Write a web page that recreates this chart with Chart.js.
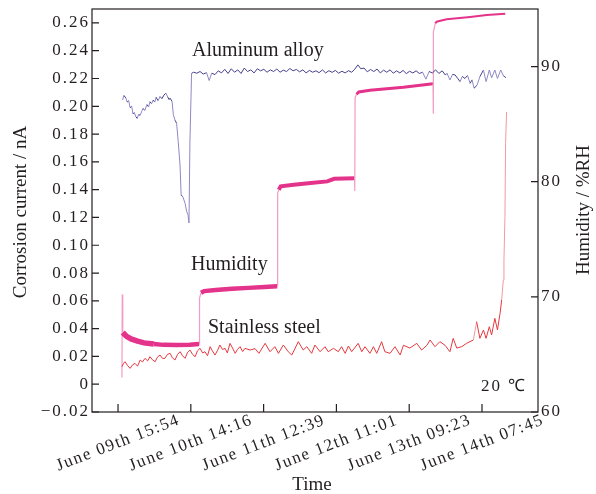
<!DOCTYPE html>
<html>
<head>
<meta charset="utf-8">
<script src="https://cdn.jsdelivr.net/npm/chart.js@4.4.0/dist/chart.umd.min.js"></script>
<style>
html, body { margin: 0; padding: 0; background: #fff; }
canvas { display: block; }
</style>
</head>
<body>
<canvas id="chart" width="596" height="494"></canvas>
<script>
// x values are hours since June 09th 15:54
const xTickHours = [0, 22.37, 44.74, 67.11, 89.48, 111.85];
const xTickLabels = ['June 09th 15:54', 'June 10th 14:16', 'June 11th 12:39',
                     'June 12th 11:01', 'June 13th 09:23', 'June 14th 07:45'];
const leftTicks = [-0.02, 0, 0.02, 0.04, 0.06, 0.08, 0.10, 0.12, 0.14, 0.16, 0.18, 0.20, 0.22, 0.24, 0.26];
const rightTicks = [60, 70, 80, 90];

// aluminum alloy corrosion current (nA)
const alTime = [1.4, 1.8, 2.4, 2.8, 3.3, 3.7, 4.2, 4.6, 5.0, 5.5, 5.9, 6.3, 6.8, 7.3, 7.7, 8.2, 8.9, 9.4, 9.8, 10.3,
  10.8, 11.3, 11.7, 12.3, 12.9, 13.5, 14.1, 14.7, 15.2, 15.7, 16.0, 16.6, 17.0, 17.5, 18.0, 18.5, 19.05, 19.4, 19.9, 20.6,
  21.1, 21.5, 21.8, 22.1, 22.6, 23.2, 24.2, 25.2, 26.2, 27.2, 28.0, 28.8, 29.8, 30.8, 31.8, 32.8, 33.8, 34.8, 35.8, 36.8,
  37.8, 38.8, 39.8, 40.8, 41.8, 42.8, 43.8, 44.8, 45.8, 46.8, 47.8, 48.8, 49.8, 50.8, 51.8, 52.8, 53.8, 54.8, 55.8, 56.8,
  57.8, 58.8, 59.8, 60.8, 61.8, 62.8, 63.8, 64.8, 65.8, 66.8, 67.8, 68.8, 69.8, 70.8, 71.8, 72.8, 73.7, 74.6, 75.6, 76.6,
  77.6, 78.6, 79.6, 80.6, 81.6, 82.6, 83.6, 84.6, 85.6, 86.6, 87.6, 88.6, 89.6, 90.6, 91.6, 92.6, 93.6, 94.6, 95.6, 96.6,
  97.6, 98.6, 99.6, 100.6, 101.1, 102.0, 102.8, 103.6, 104.4, 105.1, 105.8, 106.6, 107.4, 108.2, 108.8, 109.4, 110.3, 111.2, 112.3, 113.1,
  114.1, 114.8, 115.8, 116.6, 117.6, 118.4, 119.2];
const alCurrent = [0.2045, 0.2078, 0.2060, 0.2030, 0.2040, 0.1990, 0.2000, 0.1945, 0.1955, 0.1925, 0.1912, 0.1940, 0.1935, 0.1965, 0.1985, 0.1970, 0.2012, 0.1995, 0.2033, 0.2018,
  0.2045, 0.2030, 0.2065, 0.2040, 0.2070, 0.2055, 0.2080, 0.2095, 0.2070, 0.2048, 0.2058, 0.2035, 0.1940, 0.1900, 0.1878, 0.1745, 0.1578, 0.1360, 0.1350, 0.1302,
  0.1241, 0.1220, 0.1160, 0.1750, 0.2237, 0.2245, 0.2238, 0.2250, 0.2232, 0.2242, 0.2185, 0.2238, 0.2228, 0.2255, 0.2240, 0.2266, 0.2236, 0.2270, 0.2245, 0.2262,
  0.2236, 0.2275, 0.2250, 0.2262, 0.2240, 0.2270, 0.2255, 0.2266, 0.2245, 0.2262, 0.2250, 0.2268, 0.2245, 0.2260, 0.2250, 0.2272, 0.2255, 0.2265, 0.2248, 0.2262,
  0.2240, 0.2258, 0.2245, 0.2255, 0.2242, 0.2262, 0.2240, 0.2256, 0.2244, 0.2258, 0.2238, 0.2252, 0.2240, 0.2256, 0.2245, 0.2268, 0.2298, 0.2270, 0.2275, 0.2248,
  0.2265, 0.2250, 0.2268, 0.2240, 0.2260, 0.2245, 0.2262, 0.2238, 0.2255, 0.2240, 0.2258, 0.2235, 0.2252, 0.2240, 0.2255, 0.2236, 0.2245, 0.2195, 0.2250, 0.2240,
  0.2262, 0.2236, 0.2255, 0.2225, 0.2237, 0.2189, 0.2230, 0.2225, 0.2200, 0.2177, 0.2215, 0.2200, 0.2222, 0.2165, 0.2190, 0.2130, 0.2150, 0.2213, 0.2261, 0.2177,
  0.2261, 0.2204, 0.2261, 0.2200, 0.2261, 0.2220, 0.2206];

// stainless steel corrosion current (nA)
const ssTime = [1.2, 1.7, 2.15, 2.9, 3.7, 4.5, 5.2, 6.0, 6.8, 7.5, 8.3, 9.1, 9.8, 10.6, 11.4, 12.1, 12.9, 13.7, 14.4, 15.2,
  16.0, 16.7, 17.5, 18.3, 19.1, 19.8, 20.6, 21.4, 22.1, 22.9, 23.7, 24.4, 25.2, 26.0, 26.7, 27.5, 28.3, 29.0, 29.8, 30.6,
  31.3, 32.1, 32.9, 33.6, 34.4, 35.2, 36.0, 36.7, 37.5, 38.3, 39.0, 40.6, 42.1, 43.3, 45.2, 46.7, 48.2, 49.3, 50.8, 52.3,
  53.4, 55.4, 56.9, 58.0, 59.5, 60.5, 62.1, 63.6, 64.6, 66.2, 67.7, 68.7, 69.8, 70.8, 71.8, 73.8, 74.9, 75.9, 77.4, 78.5,
  79.5, 81.0, 82.0, 83.6, 85.1, 86.7, 87.7, 89.7, 91.8, 93.3, 94.9, 95.9, 97.4, 98.9, 100.5, 102.0, 103.0, 104.1, 105.6, 107.1,
  109.2, 110.2, 111.2, 112.3, 113.1, 114.1, 114.8, 115.8, 116.6, 117.4, 117.9, 118.4, 118.6, 118.9, 119.1, 119.4];
const ssCurrent = [0.0126, 0.0150, 0.0162, 0.0135, 0.0114, 0.0140, 0.0150, 0.0130, 0.0174, 0.0160, 0.0186, 0.0168, 0.0198, 0.0175, 0.0162, 0.0195, 0.0210, 0.0185, 0.0186, 0.0215,
  0.0222, 0.0190, 0.0174, 0.0215, 0.0234, 0.0205, 0.0186, 0.0230, 0.0246, 0.0215, 0.0198, 0.0240, 0.0258, 0.0225, 0.0234, 0.0205, 0.0270, 0.0240, 0.0210, 0.0245,
  0.0282, 0.0250, 0.0258, 0.0225, 0.0294, 0.0260, 0.0222, 0.0250, 0.0270, 0.0235, 0.0258, 0.0246, 0.0256, 0.0222, 0.0294, 0.0234, 0.0270, 0.0222, 0.0282, 0.0234,
  0.0210, 0.0306, 0.0246, 0.0270, 0.0222, 0.0282, 0.0234, 0.0270, 0.0234, 0.0258, 0.0234, 0.0270, 0.0222, 0.0275, 0.0234, 0.0294, 0.0234, 0.0270, 0.0222, 0.0270,
  0.0222, 0.0306, 0.0234, 0.0222, 0.0270, 0.0210, 0.0280, 0.0260, 0.0294, 0.0246, 0.0280, 0.0318, 0.0270, 0.0306, 0.0280, 0.0234, 0.0330, 0.0260, 0.0270, 0.0294,
  0.0318, 0.0450, 0.0330, 0.0390, 0.0330, 0.0414, 0.0354, 0.0474, 0.0390, 0.0510, 0.0606, 0.0750, 0.0894, 0.1206, 0.1730, 0.1960];

// relative humidity (%RH)
const rhTime = [1.2, 1.3, 1.45, 2.5, 4.0, 6.0, 8.0, 11.0, 14.0, 18.0, 22.0, 24.9, 25.05, 25.5, 26.5, 30.0, 35.0, 40.0, 45.0, 48.9,
  49.05, 49.4, 50.0, 54.0, 59.2, 64.3, 66.4, 72.7, 72.75, 72.85, 73.3, 74.0, 77.4, 87.7, 96.8, 96.85, 96.95, 97.5, 97.9, 101.0,
  108.2, 113.3, 119.0];
const rhValue = [63.0, 70.2, 66.9, 66.6, 66.35, 66.15, 66.0, 65.9, 65.83, 65.82, 65.85, 65.9, 69.9, 70.35, 70.5, 70.6, 70.7, 70.78, 70.85, 70.92,
  79.0, 79.3, 79.6, 79.74, 79.88, 80.03, 80.25, 80.3, 79.2, 87.3, 87.6, 87.8, 87.95, 88.2, 88.5, 85.9, 93.0, 93.75, 93.9, 94.1,
  94.3, 94.47, 94.58];

const serif = "'Liberation Serif', 'Times New Roman', serif";
const ink = '#231f20';

const toPoints = (xs, ys) => xs.map((x, i) => ({x: x, y: ys[i]}));
const isJump = c => c.p1.parsed.x - c.p0.parsed.x < 0.3;
const isSteep = c => Math.abs(c.p1.y - c.p0.y) > 2 * Math.abs(c.p1.x - c.p0.x);

function rhWidth(t) {
  if (t < 10) return 5.5;
  if (t < 25) return 4.5;
  if (t < 49) return 4.5;
  if (t < 73) return 4;
  if (t < 97) return 3;
  return 2;
}

const decor = {
  id: 'decor',
  beforeDraw(chart) {
    chart.ctx.letterSpacing = '2px';
  },
  afterDraw(chart) {
    const {ctx, chartArea: a} = chart;
    const xs = chart.scales.x, yl = chart.scales.y, yr = chart.scales.y1;
    ctx.save();
    ctx.strokeStyle = ink;
    ctx.lineWidth = 1.2;
    ctx.strokeRect(a.left, a.top, a.right - a.left, a.bottom - a.top);
    ctx.beginPath();
    leftTicks.forEach(v => {
      const p = yl.getPixelForValue(v);
      ctx.moveTo(a.left, p); ctx.lineTo(a.left + 7, p);
    });
    rightTicks.forEach(v => {
      const p = yr.getPixelForValue(v);
      ctx.moveTo(a.right, p); ctx.lineTo(a.right - 7, p);
    });
    xTickHours.forEach(v => {
      const p = xs.getPixelForValue(v);
      ctx.moveTo(p, a.bottom); ctx.lineTo(p, a.bottom - 8);
    });
    ctx.stroke();

    // rotated time labels, centred under their ticks
    ctx.fillStyle = ink;
    ctx.font = '17px ' + serif;
    ctx.letterSpacing = '1.5px';
    ctx.textAlign = 'center';
    ctx.textBaseline = 'middle';
    xTickLabels.forEach((t, i) => {
      ctx.save();
      ctx.translate(xs.getPixelForValue(xTickHours[i]), a.bottom + 31);
      ctx.rotate(-21 * Math.PI / 180);
      ctx.fillText(t, 0, 0);
      ctx.restore();
    });

    ctx.letterSpacing = '0px';
    ctx.font = '19px ' + serif;
    ctx.save();
    ctx.translate(21, 212);
    ctx.rotate(-Math.PI / 2);
    ctx.fillText('Corrosion current / nA', 0, 0);
    ctx.restore();
    ctx.save();
    ctx.translate(584, 210);
    ctx.rotate(-Math.PI / 2);
    ctx.fillText('Humidity / %RH', 0, 0);
    ctx.restore();
    ctx.textBaseline = 'alphabetic';
    ctx.fillText('Time', 312, 490);

    ctx.textAlign = 'left';
    ctx.font = '20px ' + serif;
    ctx.fillText('Aluminum alloy', 192, 56);
    ctx.fillText('Humidity', 191, 270);
    ctx.fillText('Stainless steel', 208, 333);
    ctx.font = '17px ' + serif;
    ctx.letterSpacing = '2px';
    ctx.fillText('20 \u2103', 481, 391);
    ctx.restore();
  }
};

const noPad = s => { s.paddingTop = 0; s.paddingBottom = 0; };

new Chart(document.getElementById('chart'), {
  type: 'line',
  data: {
    datasets: [
      {
        label: 'Aluminum alloy',
        data: toPoints(alTime, alCurrent),
        yAxisID: 'y',
        borderColor: '#46408f',
        borderWidth: 1,
        segment: { borderColor: c => isSteep(c) ? '#8f88c4' : undefined }
      },
      {
        label: 'Stainless steel',
        data: toPoints(ssTime, ssCurrent),
        yAxisID: 'y',
        borderColor: '#e5393f',
        borderWidth: 1,
        segment: { borderColor: c => Math.abs(c.p1.parsed.y - c.p0.parsed.y) > 0.012 ? '#f29a9c' : undefined }
      },
      {
        label: 'Humidity',
        data: toPoints(rhTime, rhValue),
        yAxisID: 'y1',
        borderColor: '#e4338a',
        borderWidth: 4,
        segment: {
          borderWidth: c => isSteep(c) || isJump(c) ? 1.2 : rhWidth(c.p0.parsed.x),
          borderColor: c => isSteep(c) || isJump(c) ? '#f29cc3' : undefined
        }
      }
    ]
  },
  options: {
    responsive: false,
    animation: false,
    layout: { padding: { top: 9, left: 0, right: 0, bottom: 0 } },
    elements: { point: { radius: 0 }, line: { tension: 0 } },
    plugins: { legend: { display: false }, tooltip: { enabled: false } },
    scales: {
      x: {
        type: 'linear',
        min: -8,
        max: 129.06,
        grid: { display: false, drawTicks: false },
        border: { display: false },
        ticks: { display: false },
        afterBuildTicks: s => { s.ticks = xTickHours.map(v => ({value: v})); },
        afterFit: s => { s.height = 82; s.paddingLeft = 0; s.paddingRight = 0; }
      },
      y: {
        position: 'left',
        min: -0.02,
        max: 0.27,
        grid: { display: false, drawTicks: false },
        border: { display: false },
        ticks: {
          padding: 2,
          color: ink,
          font: { family: serif, size: 17 },
          callback: v => v === 0 ? '0' : (v < 0 ? '\u2212' + Math.abs(v).toFixed(2) : v.toFixed(2))
        },
        afterBuildTicks: s => { s.ticks = leftTicks.map(v => ({value: v})); },
        afterFit: s => { s.width = 92; noPad(s); }
      },
      y1: {
        position: 'right',
        min: 60,
        max: 95,
        grid: { display: false, drawTicks: false },
        border: { display: false },
        ticks: {
          padding: 3,
          color: ink,
          font: { family: serif, size: 17 },
          callback: v => String(v)
        },
        afterBuildTicks: s => { s.ticks = rightTicks.map(v => ({value: v})); },
        afterFit: s => { s.width = 58; noPad(s); }
      }
    }
  },
  plugins: [decor]
});
</script>
</body>
</html>
